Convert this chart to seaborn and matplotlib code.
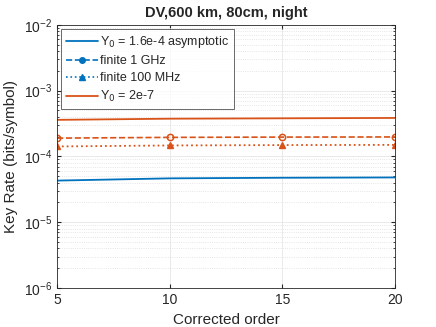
import matplotlib
matplotlib.use("Agg")
import matplotlib.pyplot as plt
import numpy as np
import pandas as pd
import seaborn as sns

# data
order = [5, 10, 15, 20]
asym_blue = [4.3e-5, 4.65e-5, 4.75e-5, 4.8e-5]
fin1g_blue = [np.nan, np.nan, np.nan, np.nan]
fin100m_blue = [np.nan, np.nan, np.nan, np.nan]
asym_orange = [3.6e-4, 3.75e-4, 3.8e-4, 3.85e-4]
fin1g_orange = [1.9e-4, 1.95e-4, 1.97e-4, 1.98e-4]
fin100m_orange = [1.42e-4, 1.47e-4, 1.49e-4, 1.5e-4]

blue = "#0072BD"
orange = "#D95319"

sns.set_style("ticks")
plt.rcParams['font.family'] = ['Liberation Sans', 'DejaVu Sans']

fig, ax = plt.subplots(figsize=(4.36, 3.27), dpi=100)
fig.subplots_adjust(left=0.131, right=0.906, top=0.924, bottom=0.119)

sns.lineplot(x=order, y=asym_blue, ax=ax, color=blue, lw=1.3,
             label='Y$_0$ = 1.6e-4 asymptotic')
ax.plot(order, fin1g_blue, color=blue, ls='--', marker='o', ms=4,
        lw=1.2, label='finite 1 GHz')
ax.plot(order, fin100m_blue, color=blue, ls=':', marker='^', ms=4.5,
        lw=1.2, label='finite 100 MHz')
sns.lineplot(x=order, y=asym_orange, ax=ax, color=orange, lw=1.3,
             label='Y$_0$ = 2e-7')
ax.plot(order, fin1g_orange, color=orange, ls='--', marker='o', ms=4.5,
        mfc='none', mew=1.1, lw=1.2)
ax.plot(order, fin100m_orange, color=orange, ls=':', marker='^', ms=5,
        lw=1.3)

ax.set_yscale('log')
ax.set_ylim(1e-6, 1e-2)
ax.set_xlim(5, 20)
ax.set_xticks([5, 10, 15, 20])
ax.grid(True, which='major', ls='-', color='#e6e6e6', lw=0.6)
ax.grid(True, which='minor', axis='y', ls=':', color='#dddddd', lw=0.6)
ax.tick_params(which='both', direction='in', top=True, right=True,
               labelsize=10, colors='#262626')
ax.tick_params(which='major', length=3)
ax.tick_params(which='minor', length=1.5)
for s in ax.spines.values():
    s.set_color('#262626')
    s.set_linewidth(0.6)

ax.set_xlabel('Corrected order', fontsize=11, color='#262626')
ax.set_ylabel('Key Rate (bits/symbol)', fontsize=11, color='#262626')
ax.set_title('DV,600 km, 80cm, night', fontsize=10.5, fontweight='bold')

leg = ax.legend(loc='upper left', fontsize=9, frameon=True, fancybox=False,
                handlelength=2.5, handletextpad=0.2, borderpad=0.4,
                labelspacing=0.4, borderaxespad=0.35)
leg.get_frame().set_edgecolor('#262626')
leg.get_frame().set_linewidth(0.6)

fig.savefig('out.png', dpi=100)
